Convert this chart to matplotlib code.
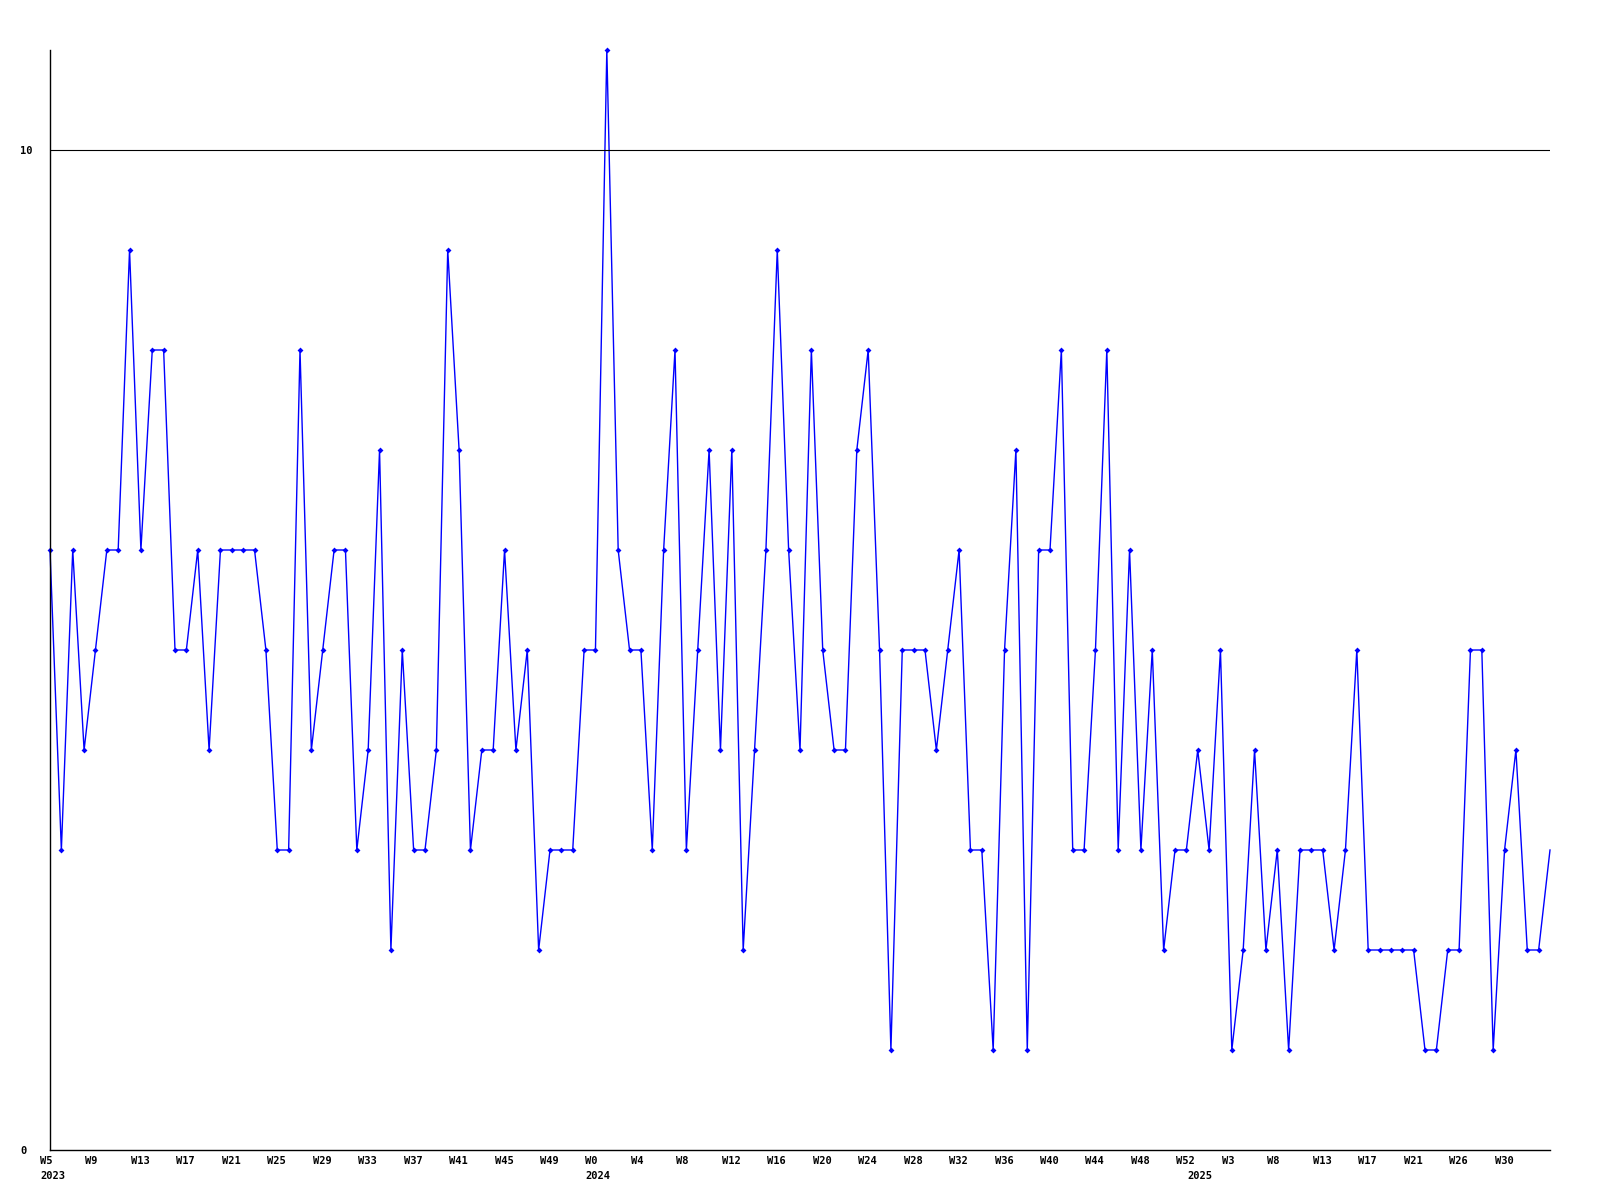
import matplotlib
matplotlib.use("Agg")
import matplotlib.pyplot as plt
import matplotlib.transforms as mtransforms

# weekly values, W5 2023 .. W33 2025
values = [6, 3, 6, 4, 5, 6, 6, 9, 6, 8, 8, 5, 5, 6, 4, 6, 6, 6, 6, 5,
          3, 3, 8, 4, 5, 6, 6, 3, 4, 7, 2, 5, 3, 3, 4, 9, 7, 3, 4, 4,
          6, 4, 5, 2, 3, 3, 3, 5, 5, 11, 6, 5, 5, 3, 6, 8, 3, 5, 7, 4,
          7, 2, 4, 6, 9, 6, 4, 8, 5, 4, 4, 7, 8, 5, 1, 5, 5, 5, 4, 5,
          6, 3, 3, 1, 5, 7, 1, 6, 6, 8, 3, 3, 5, 8, 3, 6, 3, 5, 2, 3,
          3, 4, 3, 5, 1, 2, 4, 2, 3, 1, 3, 3, 3, 2, 3, 5, 2, 2, 2, 2,
          2, 1, 1, 2, 2, 5, 5, 1, 3, 4, 2, 2, 3]

week_labels = ["W5", "W9", "W13", "W17", "W21", "W25", "W29", "W33", "W37", "W41",
               "W45", "W49", "W0", "W4", "W8", "W12", "W16", "W20", "W24", "W28",
               "W32", "W36", "W40", "W44", "W48", "W52", "W3", "W8", "W13", "W17",
               "W21", "W26", "W30"]
year_labels = ["2023", "2024", "2025"]
year_positions = [0, 48, 101]  # week index where each year label sits

FONT = dict(family="DejaVu Sans Mono", weight="bold", size=7.5)

fig = plt.figure(figsize=(16, 12), dpi=100)
ax = fig.add_axes([50 / 1600, 50 / 1200, 1500 / 1600, 1100 / 1200])

x = list(range(len(values)))
ax.plot(x, values, color="#0000ff", lw=1.0, marker="D", ms=3, mew=0,
        markevery=slice(0, len(values) - 1), clip_on=False)

ax.axhline(10, color="black", lw=0.8)

for s in ("top", "right"):
    ax.spines[s].set_visible(False)
for s in ("left", "bottom"):
    ax.spines[s].set_linewidth(1.0)
    ax.spines[s].set_color("black")

# y ticks: labels left aligned near the figure edge
ax.set_yticks([0, 10])
ax.set_yticklabels(["0", "10"], **FONT)
ax.tick_params(axis="y", length=0, pad=21.6)
for lab in ax.get_yticklabels():
    lab.set_horizontalalignment("left")

# x ticks every 4 weeks, label left edge ~10px before the point
ax.set_xticks([4 * i for i in range(len(week_labels))])
ax.set_xticklabels(week_labels, **FONT)
ax.tick_params(axis="x", length=0, pad=4)
offset = mtransforms.ScaledTranslation(-10 / 100, 0, fig.dpi_scale_trans)
for lab in ax.get_xticklabels():
    lab.set_horizontalalignment("left")
    lab.set_transform(lab.get_transform() + offset)

ax.set_xlim(0, len(values) - 1)
ax.set_ylim(0, 11)

for lab, pos in zip(year_labels, year_positions):
    ax.annotate(lab, xy=(pos, 0), xycoords=("data", "axes fraction"),
                xytext=(-7.2, -15), textcoords="offset points",
                ha="left", va="top", annotation_clip=False, **FONT)

fig.savefig("out.png", dpi=100, facecolor="white")
